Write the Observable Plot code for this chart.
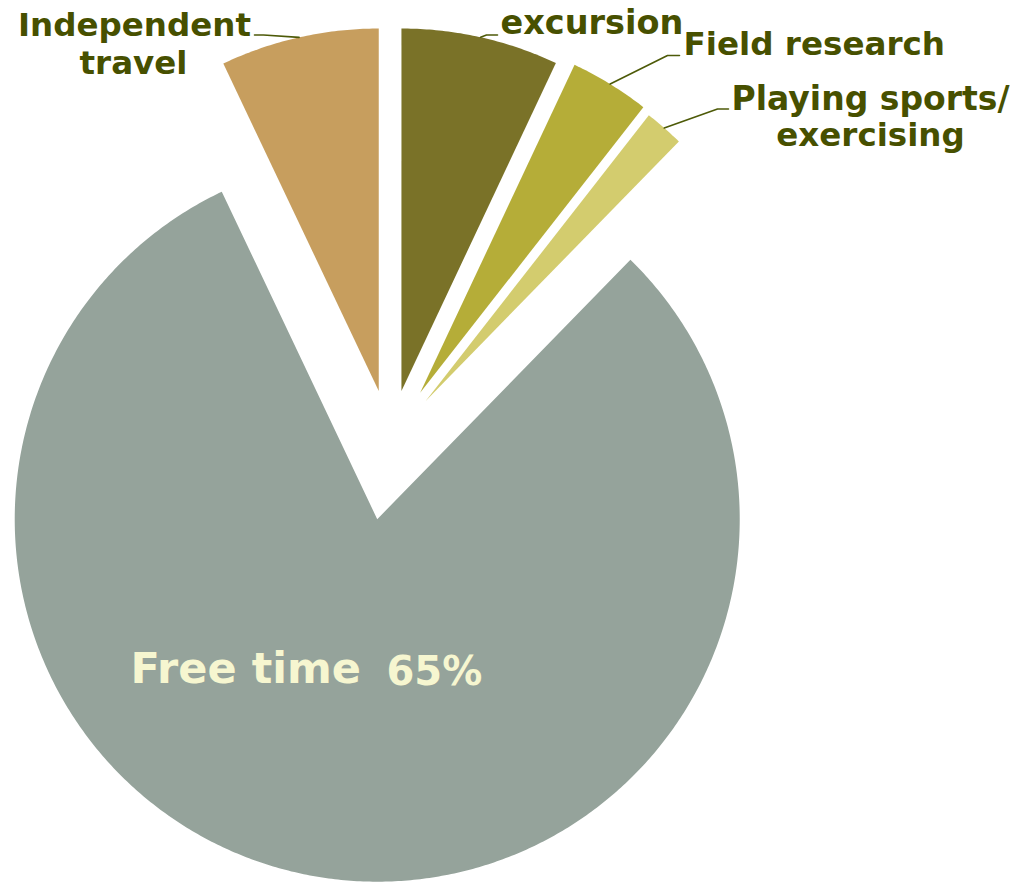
<!DOCTYPE html>
<html>
<head>
<meta charset="utf-8">
<script src="https://cdn.jsdelivr.net/npm/d3@7"></script>
<script src="https://cdn.jsdelivr.net/npm/@observablehq/plot@0.6"></script>
<style>
  html, body { margin: 0; padding: 0; background: #ffffff; }
  #chart svg { display: block; }
</style>
</head>
<body>
<div id="chart"></div>
<script>
// ---- data ----
const categories = ["excursion", "Field research", "Playing sports/ exercising", "Free time", "Independent travel"];
const shares = [7.0, 3.55, 1.75, 80.6, 7.05];          // slice sizes as drawn (% of the circle)
const freeTimeLabel = "65%";                            // label printed on the big slice
const sliceColors = ["#7a7228", "#b5ad38", "#d3cc6e", "#95a39b", "#c79e5e"];

// ---- layout (not data) ----
const W = 1010, H = 885;
const R = 362.5;                 // pie radius in px
const CX = 389.65, CY = 441.1;   // pie centre in px
const explode = [0.143, 0.158, 0.149, 0.217, 0.143]; // explosion, fraction of radius
const toU = px => (px - CX) / R;
const toV = py => (CY - py) / R;
const labelInk = "#475000";
const leaderInk = "#4d5a08";
const innerInk = "#f6f6d0";
const font = "DejaVu Sans, Verdana, sans-serif";

// label layout in px (elbow, end of leader line)
const leaderLayout = [
  {i: 0, elbow: [486, 34.5], end: [497, 34.5]},
  {i: 1, elbow: [667, 55], end: [679, 55]},
  {i: 2, elbow: [717, 108.5], end: [728, 108.5]},
  {i: 4, elbow: [263, 34.5], end: [254, 34.5]}
];
const outerText = [
  {t: "excursion", x: 500, y: 33.5, anchor: "start", size: 33.5},
  {t: "Field research", x: 683, y: 54.5, anchor: "start", size: 32.6},
  {t: "Playing sports/", x: 870, y: 109, anchor: "middle", size: 33},
  {t: "exercising", x: 870, y: 145.5, anchor: "middle", size: 32.5},
  {t: "Independent", x: 134, y: 35, anchor: "middle", size: 32.5},
  {t: "travel", x: 133, y: 73.5, anchor: "middle", size: 32.5}
];
const innerText = [
  {t: categories[3], x: 130, y: 682, size: 43},
  {t: freeTimeLabel, x: 386, y: 684, size: 40}
];

// ---- geometry from the data ----
const arcs = d3.pie().sort(null).value(d => d)(shares);
const slices = arcs.map((p, i) => {
  const mid = (p.startAngle + p.endAngle) / 2;
  return {
    name: categories[i], start: p.startAngle, end: p.endAngle, mid,
    ox: explode[i] * Math.sin(mid), oy: explode[i] * Math.cos(mid)
  };
});
const polyPts = slices.flatMap(s => {
  const pts = [{name: s.name, x: s.ox, y: s.oy}];
  const n = Math.max(4, Math.ceil((s.end - s.start) / (Math.PI / 360)));
  for (let k = 0; k <= n; k++) {
    const a = s.start + (s.end - s.start) * k / n;
    pts.push({name: s.name, x: s.ox + Math.sin(a), y: s.oy + Math.cos(a)});
  }
  return pts;
});
const leaderPts = leaderLayout.flatMap(L => {
  const s = slices[L.i];
  return [
    {k: L.i, x: s.ox + Math.sin(s.mid), y: s.oy + Math.cos(s.mid)},
    {k: L.i, x: toU(L.elbow[0]), y: toV(L.elbow[1])},
    {k: L.i, x: toU(L.end[0]), y: toV(L.end[1])}
  ];
});

const textMarks = [...outerText.map(d => ({...d, fill: labelInk})), ...innerText.map(d => ({...d, anchor: "start", fill: innerInk}))]
  .map(d => Plot.text([d], {
    x: e => toU(e.x), y: e => toV(e.y), text: "t",
    textAnchor: d.anchor, lineAnchor: "bottom",
    fontSize: d.size, fontWeight: "bold", fontFamily: font, fill: d.fill
  }));

const chart = Plot.plot({
  width: W, height: H,
  marginTop: 0, marginRight: 0, marginBottom: 0, marginLeft: 0,
  x: {domain: [toU(0), toU(W)], axis: null},
  y: {domain: [toV(H), toV(0)], axis: null},
  color: {domain: categories, range: sliceColors},
  style: {background: "#ffffff", fontFamily: font},
  marks: [
    Plot.line(polyPts, {x: "x", y: "y", z: "name", fill: "name", stroke: null, curve: "linear-closed"}),
    Plot.line(leaderPts, {x: "x", y: "y", z: "k", stroke: leaderInk, strokeWidth: 1.6, curve: "linear"}),
    ...textMarks
  ]
});
document.getElementById("chart").appendChild(chart);
</script>
</body>
</html>
